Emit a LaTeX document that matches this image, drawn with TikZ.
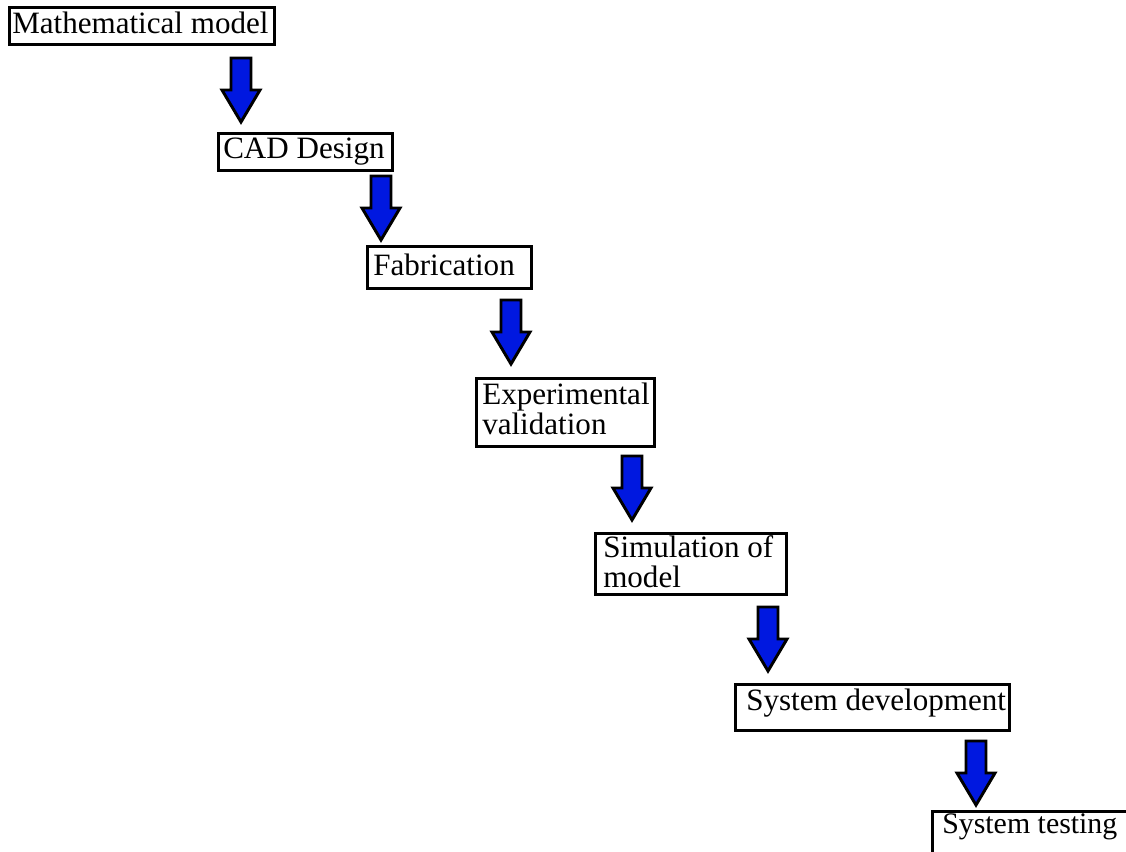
\documentclass[tikz,border=0pt]{standalone}
\usepackage{fontspec}
\setmainfont{Liberation Serif}
\definecolor{arrowblue}{RGB}{0,24,224}
\begin{document}
\begin{tikzpicture}[x=0.75pt,y=-0.75pt,
  box/.style={draw=black,line width=2.25pt,fill=white,inner sep=0pt,anchor=north west},
  txt/.style={inner sep=0pt,anchor=base west,align=left,font=\fontsize{23.3}{22.5}\selectfont},
  pics/barrow/.style={code={
    \draw[line width=2.2pt,line join=miter,fill=arrowblue]
      (-10,0) -- (10,0) -- (10,32) -- (19,32) -- (0,64) -- (-19,32) -- (-10,32) -- cycle;}}
]
\useasboundingbox (0,0) rectangle (1126,851);
\clip (0,0) rectangle (1126,851);
% boxes
\node[box,minimum width=265*0.75pt,minimum height=37*0.75pt] (b1) at (8,6) {};
\node[box,minimum width=174*0.75pt,minimum height=37*0.75pt] (b2) at (217,132) {};
\node[box,minimum width=164*0.75pt,minimum height=42*0.75pt] (b3) at (366,245) {};
\node[box,minimum width=178*0.75pt,minimum height=68*0.75pt] (b4) at (475,377) {};
\node[box,minimum width=191*0.75pt,minimum height=61*0.75pt] (b5) at (594,532) {};
\node[box,minimum width=274*0.75pt,minimum height=46*0.75pt] (b6) at (734,683) {};
\node[box,minimum width=230*0.75pt,minimum height=60*0.75pt] (b7) at (931,810) {};
% texts
\node[txt] (t1) at (12,33) {Mathematical model};
\node[txt] (t2) at (223,158) {CAD Design};
\node[txt] (t3) at (373,275) {Fabrication};
\node[txt] (t4) at (482,434) {Experimental\\validation};
\node[txt] (t5) at (603,587) {Simulation of\\model};
\node[txt] (t6) at (746,710) {System development};
\node[txt,font=\fontsize{22.4}{22.5}\selectfont] (t7) at (942,833) {System testing};
% block arrows
\pic at (241,58) {barrow};
\pic at (381,176) {barrow};
\pic at (511,300) {barrow};
\pic at (632,456) {barrow};
\pic at (768,607) {barrow};
\pic at (976,741) {barrow};
\end{tikzpicture}
\end{document}
